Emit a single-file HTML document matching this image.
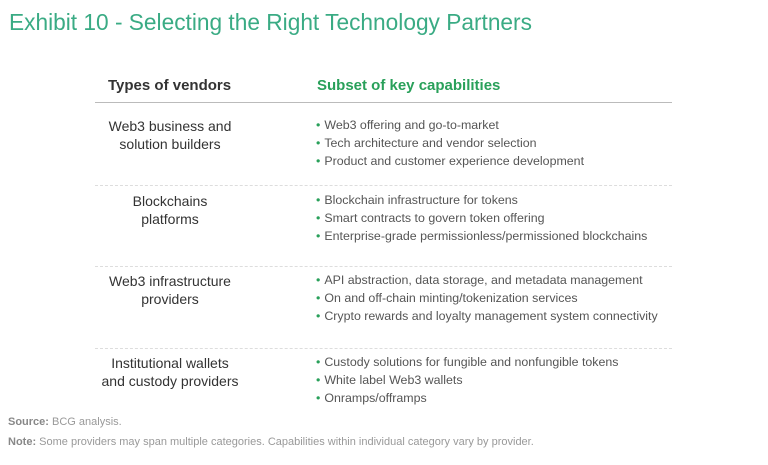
<!DOCTYPE html>
<html><head><meta charset="utf-8"><style>
body{margin:0;width:768px;height:465px;background:#fff;position:relative;font-family:"Liberation Sans",sans-serif;overflow:hidden}
.a{position:absolute;white-space:nowrap}
.t{left:9px;top:9px;font-size:22.7px;color:#3aab84}
.h{top:77px;font-size:15px;font-weight:bold}
.l{left:95px;width:150px;text-align:center;font-size:14px;color:#333;line-height:18px}
.b{left:316px;font-size:12.4px;color:#555;line-height:18px}
.b span{color:#29a05a;margin-right:4px}
.sep{position:absolute;left:95px;width:577px;border-top:1px dashed #ddd}
.f{left:8px;font-size:11px;color:#999}
.f b{color:#888}
</style></head><body>
<div class="a t">Exhibit 10 - Selecting the Right Technology Partners</div>
<div class="a h" style="left:108px;color:#333">Types of vendors</div>
<div class="a h" style="left:317px;color:#29a05a">Subset of key capabilities</div>
<div style="position:absolute;left:95px;top:102px;width:577px;height:1px;background:#bbb"></div>

<div class="a l" style="top:117px">Web3 business and<br>solution builders</div>
<div class="a b" style="top:116px"><span>•</span>Web3 offering and go-to-market<br><span>•</span>Tech architecture and vendor selection<br><span>•</span>Product and customer experience development</div>
<div class="sep" style="top:185px"></div>

<div class="a l" style="top:192px">Blockchains<br>platforms</div>
<div class="a b" style="top:191px"><span>•</span>Blockchain infrastructure for tokens<br><span>•</span>Smart contracts to govern token offering<br><span>•</span>Enterprise-grade permissionless/permissioned blockchains</div>
<div class="sep" style="top:266px"></div>

<div class="a l" style="top:272px">Web3 infrastructure<br>providers</div>
<div class="a b" style="top:271px"><span>•</span>API abstraction, data storage, and metadata management<br><span>•</span>On and off-chain minting/tokenization services<br><span>•</span>Crypto rewards and loyalty management system connectivity</div>
<div class="sep" style="top:348px"></div>

<div class="a l" style="top:354px">Institutional wallets<br>and custody providers</div>
<div class="a b" style="top:353px"><span>•</span>Custody solutions for fungible and nonfungible tokens<br><span>•</span>White label Web3 wallets<br><span>•</span>Onramps/offramps</div>

<div class="a f" style="top:416px"><b>Source:</b> BCG analysis.</div>
<div class="a f" style="top:436px"><b>Note:</b> Some providers may span multiple categories. Capabilities within individual category vary by provider.</div>
</body></html>
